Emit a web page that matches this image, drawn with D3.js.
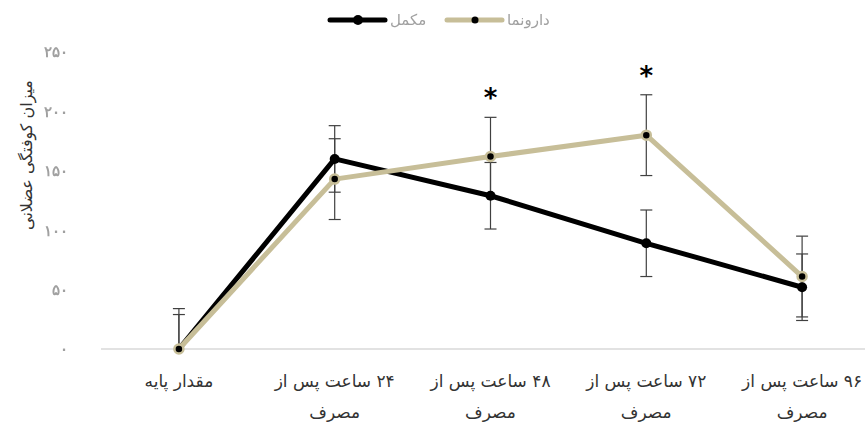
<!DOCTYPE html>
<html lang="fa">
<head>
<meta charset="utf-8">
<script src="https://cdn.jsdelivr.net/npm/d3@7"></script>
<style>
  html, body { margin: 0; padding: 0; background: #fff; }
  svg { display: block; font-family: "DejaVu Sans", "Noto Sans", sans-serif; }
</style>
</head>
<body>
<svg id="chart" width="865" height="429"></svg>
<script>
// Time points after intake (two-line labels)
const categories = [
  ["مقدار پایه"],
  ["۲۴ ساعت پس از", "مصرف"],
  ["۴۸ ساعت پس از", "مصرف"],
  ["۷۲ ساعت پس از", "مصرف"],
  ["۹۶ ساعت پس از", "مصرف"]
];
const seriesNames = ["مکمل", "دارونما"];
const supplementValues = [0, 160, 129, 89, 52];
const supplementErrors = [29, 28, 28, 28, 28];
const placeboValues = [0, 143, 162, 180, 61];
const placeboErrors = [34, 34, 33, 34, 34];
const significantIdx = [2, 3];
const yTicks = [0, 50, 100, 150, 200, 250];
const yTickLabels = ["۰", "۵۰", "۱۰۰", "۱۵۰", "۲۰۰", "۲۵۰"];
const yTitle = "میزان کوفتگی عضلانی";

const svg = d3.select("#chart");
const x = d3.scaleBand().domain(d3.range(categories.length)).range([101, 880]);
const y = d3.scaleLinear().domain([0, 250]).range([349, 52]);
const cx = i => x(i) + x.bandwidth() / 2;

const series = [
  { name: seriesNames[0], values: supplementValues, errors: supplementErrors, color: "#000000" },
  { name: seriesNames[1], values: placeboValues, errors: placeboErrors, color: "#c7be98" }
];

// Baseline
svg.append("line")
  .attr("x1", 101).attr("x2", 880)
  .attr("y1", y(0)).attr("y2", y(0))
  .attr("stroke", "#d9d9d9").attr("stroke-width", 1.5);

// Y axis labels (no axis line)
const yAxis = d3.axisLeft(y).tickValues(yTicks)
  .tickFormat((d, i) => yTickLabels[i]).tickSize(0).tickPadding(0);
const yg = svg.append("g").attr("transform", "translate(68,0)").call(yAxis);
yg.select(".domain").remove();
yg.selectAll("text")
  .attr("fill", "#a0a0a0").attr("font-size", 15).attr("font-weight", "bold")
  .style("filter", "blur(0.5px)");

// Y title
svg.append("text")
  .attr("transform", "translate(32,155) rotate(-90)")
  .attr("text-anchor", "middle")
  .attr("font-size", 16).attr("fill", "#333")
  .attr("direction", "rtl")
  .text(yTitle);

// X category labels
const xl = svg.append("g");
categories.forEach((lines, i) => {
  const t = xl.append("text")
    .attr("x", cx(i)).attr("text-anchor", "middle")
    .attr("font-size", 17).attr("fill", "#333").attr("direction", "rtl");
  lines.forEach((ln, k) => {
    t.append("tspan").attr("x", cx(i)).attr("y", 387 + k * 31).text(ln);
  });
});

// Error bars
series.forEach(s => {
  const g = svg.append("g").attr("stroke", "#404040").attr("stroke-width", 1.2);
  s.values.forEach((v, i) => {
    const top = y(v + s.errors[i]);
    const bot = y(Math.max(0, v - s.errors[i]));
    g.append("line").attr("x1", cx(i)).attr("x2", cx(i)).attr("y1", top).attr("y2", bot);
    g.append("line").attr("x1", cx(i) - 6).attr("x2", cx(i) + 6).attr("y1", top).attr("y2", top);
    if (v - s.errors[i] > 0)
      g.append("line").attr("x1", cx(i) - 6).attr("x2", cx(i) + 6).attr("y1", bot).attr("y2", bot);
  });
});

// Lines and markers
const line = d3.line().x((d, i) => cx(i)).y(d => y(d));
series.forEach((s, si) => {
  svg.append("path").datum(s.values)
    .attr("d", line).attr("fill", "none")
    .attr("stroke", s.color).attr("stroke-width", 5)
    .attr("stroke-linejoin", "round");
  svg.append("g").selectAll("circle").data(s.values).join("circle")
    .attr("cx", (d, i) => cx(i)).attr("cy", d => y(d))
    .attr("r", si === 0 ? 5 : 4.5)
    .attr("fill", "#000")
    .attr("stroke", si === 0 ? "#000" : s.color)
    .attr("stroke-width", si === 0 ? 0 : 2.5);
});

// Significance markers
svg.append("g").selectAll("text").data(significantIdx).join("text")
  .attr("x", i => cx(i))
  .attr("y", i => y(placeboValues[i] + placeboErrors[i]) - 10)
  .attr("text-anchor", "middle")
  .attr("font-size", 26).attr("font-weight", "bold").attr("fill", "#000")
  .text("*");

// Legend
const legend = svg.append("g");
const lx = [330, 447];
series.forEach((s, si) => {
  const g = legend.append("g").attr("transform", `translate(${lx[si]},20)`);
  g.append("line").attr("x1", 0).attr("x2", 55).attr("y1", 0).attr("y2", 0)
    .attr("stroke", s.color).attr("stroke-width", 5).attr("stroke-linecap", "round");
  g.append("circle").attr("cx", 28).attr("cy", 0)
    .attr("r", si === 0 ? 5 : 3.5).attr("fill", "#000");
  g.append("text").attr("x", 60).attr("y", 5)
    .attr("font-size", 15).attr("fill", "#a0a0a0")
    .attr("direction", "rtl").attr("text-anchor", "end")
    .style("filter", "blur(0.5px)")
    .text(s.name);
});
</script>
</body>
</html>
